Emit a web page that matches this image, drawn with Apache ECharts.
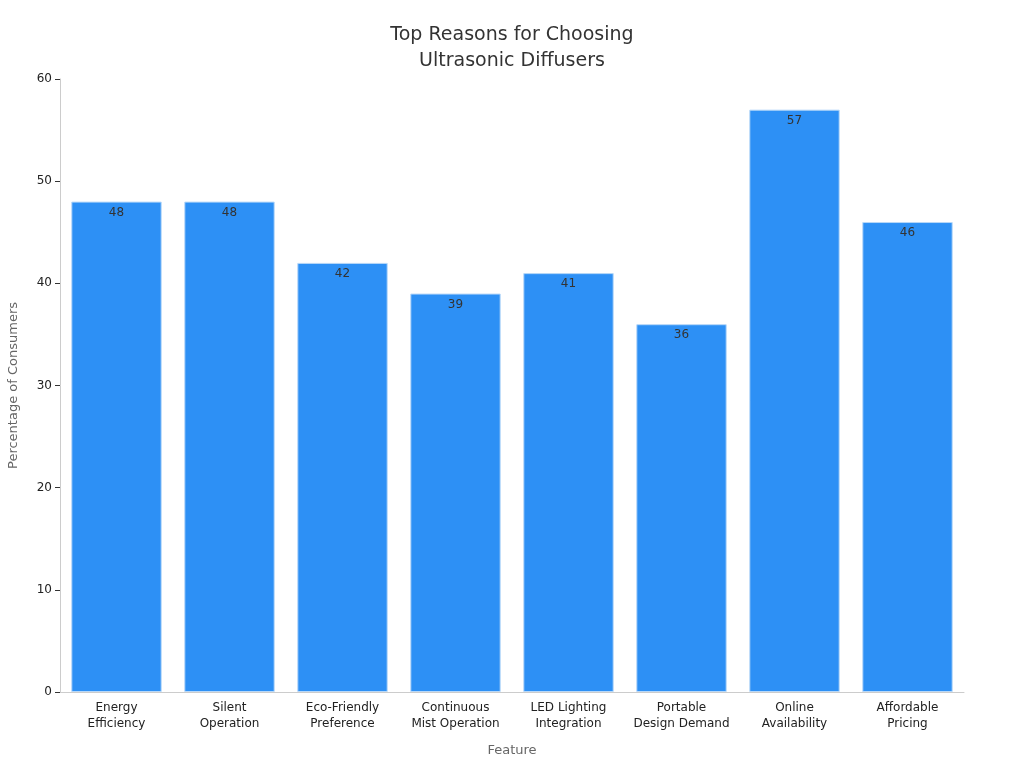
<!DOCTYPE html>
<html><head><meta charset="utf-8">
<script src="https://cdn.jsdelivr.net/npm/echarts@6/dist/echarts.min.js"></script>
<style>html,body{margin:0;padding:0;background:#fff}#c{width:1024px;height:768px}</style>
</head><body><div id="c"></div>
<script>
const categories = ["Energy\nEfficiency","Silent\nOperation","Eco-Friendly\nPreference","Continuous\nMist Operation","LED Lighting\nIntegration","Portable\nDesign Demand","Online\nAvailability","Affordable\nPricing"];
const values = [48,48,42,39,41,36,57,46];
const chart = echarts.init(document.getElementById('c'));
chart.setOption({
  textStyle:{fontFamily:'DejaVu Sans'},
  title:{text:'Top Reasons for Choosing\nUltrasonic Diffusers',left:'center',top:17,textStyle:{fontSize:19,fontWeight:'normal',color:'#333',lineHeight:26,fontFamily:'DejaVu Sans'}},
  grid:{left:60,right:60,top:79,bottom:76,containLabel:false,outerBoundsMode:'none'},
  xAxis:{type:'category',data:categories,name:'Feature',nameLocation:'middle',nameGap:52,
    nameTextStyle:{color:'#666',fontSize:13},
    axisLine:{lineStyle:{color:'#ccc'}},axisTick:{show:false},
    axisLabel:{color:'#222',fontSize:12,interval:0,lineHeight:16}},
  yAxis:{type:'value',min:0,max:60,interval:10,name:'Percentage of Consumers',nameLocation:'middle',nameGap:40,
    nameTextStyle:{color:'#666',fontSize:13},
    axisLine:{show:true,lineStyle:{color:'#ccc'}},axisTick:{show:true,lineStyle:{color:'#333'}},
    axisLabel:{color:'#222',fontSize:12},splitLine:{show:false}},
  series:[{type:'bar',data:values,barCategoryGap:'20%',
    itemStyle:{color:'#2d90f5',borderColor:'#b8d8f8',borderWidth:1},
    label:{show:true,position:'insideTop',color:'#333',fontSize:12}}]
});
</script></body></html>
